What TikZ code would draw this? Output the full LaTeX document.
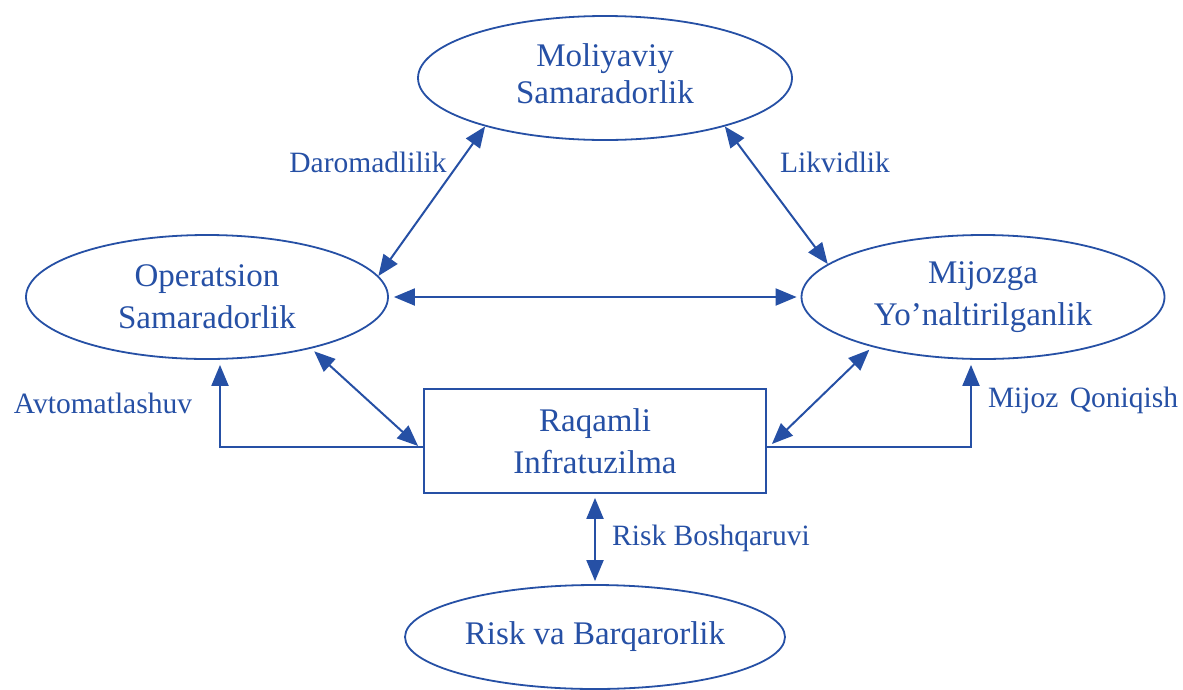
\documentclass[tikz,border=0pt]{standalone}
\usepackage{fontspec}
\setmainfont{Liberation Serif}
\usetikzlibrary{shapes.geometric,arrows.meta,calc}
\definecolor{dblue}{RGB}{38,80,165}
\tikzset{
  oval/.style={ellipse,draw=dblue,line width=1.8pt,inner sep=0pt,align=center,text=dblue,
    font=\fontsize{33}{42}\selectfont},
  box/.style={rectangle,draw=dblue,line width=1.8pt,inner sep=0pt,align=center,text=dblue,
    font=\fontsize{33}{42}\selectfont},
  lbl/.style={text=dblue,inner sep=0pt,font=\fontsize{29.5}{33}\selectfont},
  conn/.style={draw=dblue,line width=2pt,-{Triangle[length=21pt,width=17pt]}},
  dconn/.style={draw=dblue,line width=2pt,{Triangle[length=21pt,width=17pt]}-{Triangle[length=21pt,width=17pt]}}
}
\begin{document}
\begin{tikzpicture}[x=1pt,y=-1pt]
\useasboundingbox[fill=white] (0,0) rectangle (1183,689);
\node[oval,minimum width=374pt,minimum height=124pt,font=\fontsize{33}{37}\selectfont] (top) at (605,78) {\raisebox{4pt}{\begin{tabular}{@{}c@{}}Moliyaviy\\Samaradorlik\end{tabular}}};
\node[oval,minimum width=362pt,minimum height=124pt] (left) at (207,297) {Operatsion\\Samaradorlik};
\node[oval,minimum width=363pt,minimum height=124pt] (right) at (983,297) {Mijozga\\Yo’naltirilganlik};
\node[box,minimum width=342pt,minimum height=104pt] (rect) at (595,441) {Raqamli\\Infratuzilma};
\node[oval,minimum width=380pt,minimum height=104pt] (bot) at (595,637) {Risk va Barqarorlik};

\node[lbl] (l1) at (368,162) {Daromadlilik};
\node[lbl] (l2) at (835,162) {Likvidlik};
\node[lbl] (l3) at (103,403) {Avtomatlashuv};
\node[lbl] (l4) at (1083,400) {Mijoz\hspace{4pt} Qoniqish};
\node[lbl,anchor=west] (l5) at (612,538) {Risk Boshqaruvi};

\draw[dconn] (left.7) -- (top.202.6);
\draw[dconn] (right.168.4) -- (top.338.2);
\draw[dconn,shorten <=5pt,shorten >=4pt] (left.east) -- (right.west);
\draw[dconn] ([xshift=2pt,yshift=-3pt]left.334.8) -- ([xshift=-5pt,yshift=-5pt]rect.west);
\draw[dconn] ([xshift=-2pt,yshift=-3pt]right.204) -- ([xshift=5pt,yshift=-3pt]rect.east);
\draw[conn] ([yshift=-6pt]rect.west) -| ([xshift=13pt,yshift=-5pt]left.south);
\draw[conn] ([yshift=-6pt]rect.east) -| ([xshift=-12pt,yshift=-5pt]right.south);
\draw[dconn,shorten <=4pt,shorten >=3pt] (rect.south) -- (bot.north);
\end{tikzpicture}
\end{document}
